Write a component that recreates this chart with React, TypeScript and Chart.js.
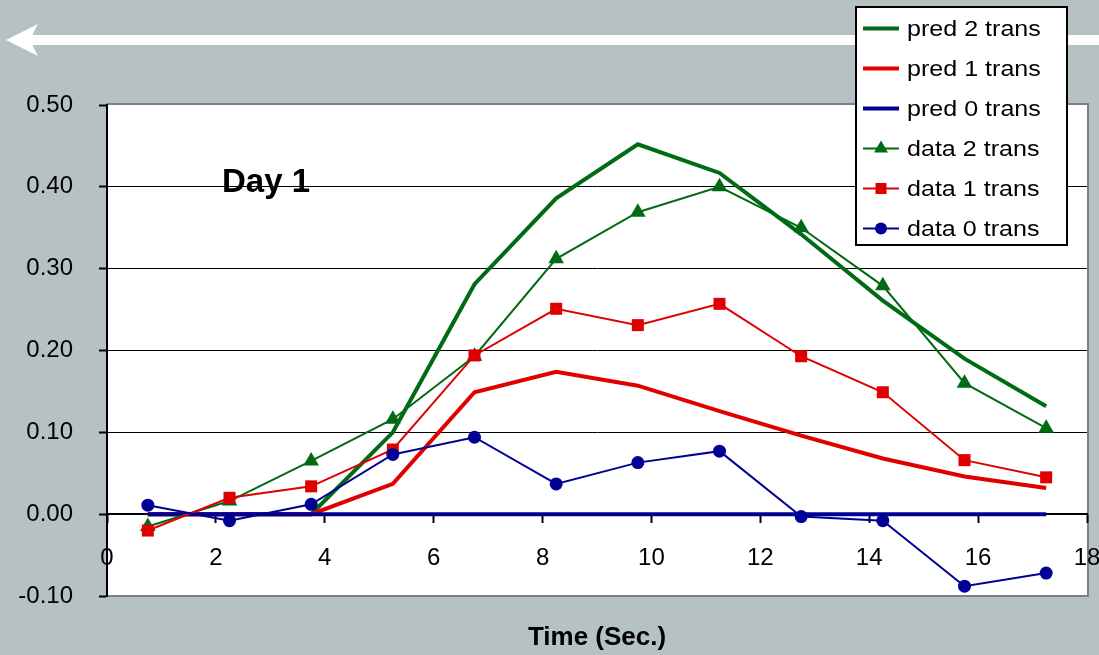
import React, { useEffect, useRef } from 'react';
import { Chart, registerables } from 'chart.js';

Chart.register(...registerables);

const FONT = '"Liberation Sans", Arial, Helvetica, sans-serif';
const GREEN = '#006a14';
const RED = '#e00000';
const BLUE = '#000096';

// Time (Sec.) of each sample
const times = [0.75, 2.25, 3.75, 5.25, 6.75, 8.25, 9.75, 11.25, 12.75, 14.25, 15.75, 17.25];
// predicted curves
const pred2 = [0, 0, 0, 0.1, 0.281, 0.386, 0.452, 0.417, 0.342, 0.261, 0.19, 0.132];
const pred1 = [0, 0, 0, 0.037, 0.149, 0.174, 0.157, 0.126, 0.096, 0.068, 0.046, 0.032];
const pred0 = [0, 0, 0, 0, 0, 0, 0, 0, 0, 0, 0, 0];
// observed data
const data2 = [-0.015, 0.016, 0.065, 0.116, 0.193, 0.312, 0.369, 0.4, 0.35, 0.279, 0.16, 0.105];
const data1 = [-0.02, 0.02, 0.034, 0.079, 0.194, 0.251, 0.231, 0.257, 0.193, 0.149, 0.066, 0.045];
const data0 = [0.011, -0.008, 0.012, 0.073, 0.094, 0.037, 0.063, 0.077, -0.003, -0.008, -0.088, -0.072];

const seriesLabels = ['pred 2 trans', 'pred 1 trans', 'pred 0 trans', 'data 2 trans', 'data 1 trans', 'data 0 trans'];
const chartNote = 'Day 1';
const xTitle = 'Time (Sec.)';

const toPts = (ys: number[]) => ys.map((y, i) => ({ x: times[i], y }));

type LegendItem = { label: string; color: string; width: number; marker: string | null };
const legendItems: LegendItem[] = [
  { label: seriesLabels[0], color: GREEN, width: 4, marker: null },
  { label: seriesLabels[1], color: RED, width: 4, marker: null },
  { label: seriesLabels[2], color: BLUE, width: 4, marker: null },
  { label: seriesLabels[3], color: GREEN, width: 2, marker: 'triangle' },
  { label: seriesLabels[4], color: RED, width: 2, marker: 'rect' },
  { label: seriesLabels[5], color: BLUE, width: 2, marker: 'circle' },
];

function drawMarker(ctx: CanvasRenderingContext2D, type: string, x: number, y: number, color: string) {
  ctx.fillStyle = color;
  ctx.beginPath();
  if (type === 'triangle') {
    ctx.moveTo(x, y - 8);
    ctx.lineTo(x + 7, y + 4);
    ctx.lineTo(x - 7, y + 4);
    ctx.closePath();
  } else if (type === 'rect') {
    ctx.rect(x - 5.5, y - 5.5, 11, 11);
  } else {
    ctx.arc(x, y, 6, 0, Math.PI * 2);
  }
  ctx.fill();
}

const decorPlugin = {
  id: 'decor',
  beforeDraw(chart: any) {
    const { ctx, width, height, chartArea } = chart;
    ctx.save();
    ctx.fillStyle = '#b5c1c3';
    ctx.fillRect(0, 0, width, height);
    // white arrow
    ctx.fillStyle = '#ffffff';
    ctx.fillRect(30, 35, width - 30, 10);
    ctx.beginPath();
    ctx.moveTo(6, 40);
    ctx.lineTo(38, 24);
    ctx.quadraticCurveTo(32, 34, 31, 40);
    ctx.quadraticCurveTo(32, 46, 38, 56);
    ctx.closePath();
    ctx.fill();
    // plot area
    const { left, top, right, bottom } = chartArea;
    ctx.fillStyle = '#ffffff';
    ctx.fillRect(left, top - 1, right - left + 1, bottom - top + 1);
    ctx.strokeStyle = '#808080';
    ctx.lineWidth = 2;
    ctx.strokeRect(left, top - 1, right - left + 1, bottom - top + 1);
    ctx.restore();
  },
  afterDraw(chart: any) {
    const { ctx } = chart;
    ctx.save();
    // note
    ctx.fillStyle = '#000';
    ctx.font = `bold 33px ${FONT}`;
    ctx.textBaseline = 'alphabetic';
    ctx.textAlign = 'left';
    ctx.fillText(chartNote, 222, 192);
    // legend
    const bx = 855, by = 6, bw = 213, bh = 240;
    ctx.fillStyle = '#ffffff';
    ctx.fillRect(bx, by, bw, bh);
    ctx.strokeStyle = '#000';
    ctx.lineWidth = 2;
    ctx.strokeRect(bx + 1, by + 1, bw - 2, bh - 2);
    legendItems.forEach((it, i) => {
      const y = 28.5 + i * 40;
      ctx.strokeStyle = it.color;
      ctx.lineWidth = it.width;
      ctx.beginPath();
      ctx.moveTo(863, y);
      ctx.lineTo(899, y);
      ctx.stroke();
      if (it.marker) drawMarker(ctx, it.marker, 881, y, it.color);
      ctx.save();
      ctx.translate(907, y + 1);
      ctx.scale(1.14, 1);
      ctx.fillStyle = '#000';
      ctx.font = `22px ${FONT}`;
      ctx.textBaseline = 'middle';
      ctx.textAlign = 'left';
      ctx.fillText(it.label, 0, 0);
      ctx.restore();
    });
    ctx.restore();
  },
};

export default function App() {
  const ref = useRef<HTMLCanvasElement | null>(null);
  useEffect(() => {
    if (!ref.current) return;
    const thin = (label: string, ys: number[], color: string, style: string, r: number) => ({
      label,
      data: toPts(ys),
      borderColor: color,
      backgroundColor: color,
      borderWidth: 2,
      pointStyle: style,
      pointRadius: r,
      pointBorderWidth: 0,
      pointBackgroundColor: color,
      tension: 0,
    });
    const thick = (label: string, ys: number[], color: string) => ({
      label,
      data: toPts(ys),
      borderColor: color,
      backgroundColor: color,
      borderWidth: 4,
      pointRadius: 0,
      tension: 0,
    });
    const chart = new Chart(ref.current, {
      type: 'line',
      data: {
        datasets: [
          thin(seriesLabels[5], data0, BLUE, 'circle', 6.5),
          thin(seriesLabels[4], data1, RED, 'rect', 8.5),
          thin(seriesLabels[3], data2, GREEN, 'triangle', 9),
          thick(seriesLabels[2], pred0, BLUE),
          thick(seriesLabels[1], pred1, RED),
          thick(seriesLabels[0], pred2, GREEN),
        ] as any,
      },
      options: {
        responsive: false,
        animation: false,
        layout: { padding: { left: 0, top: 105, right: 12, bottom: 59 } },
        plugins: { legend: { display: false }, tooltip: { enabled: false } },
        scales: {
          x: {
            type: 'linear',
            min: 0,
            max: 18,
            position: { y: 0 } as any,
            ticks: {
              stepSize: 2,
              color: '#000',
              font: { size: 24, family: FONT },
              padding: 22,
              maxRotation: 0,
              autoSkip: false,
            },
            grid: { drawOnChartArea: false, tickLength: 8, tickColor: '#000', tickWidth: 2 },
            border: { color: '#000', width: 2 },
            title: {
              display: true,
              text: xTitle,
              color: '#000',
              font: { size: 26, weight: 'bold', family: FONT },
              padding: { top: 27, bottom: 0 },
            },
            afterFit: (s: any) => {
              s.paddingLeft = 0;
              s.paddingRight = 0;
            },
          },
          y: {
            type: 'linear',
            min: -0.1,
            max: 0.5,
            ticks: {
              stepSize: 0.1,
              color: '#000',
              font: { size: 24, family: FONT },
              padding: 26,
              callback: (v: any) => {
                const n = Number(v);
                return (Math.abs(n) < 1e-9 ? 0 : n).toFixed(2);
              },
            },
            grid: {
              color: (c: any) =>
                c.tick && (c.tick.value > 0.45 || c.tick.value < -0.05) ? 'rgba(0,0,0,0)' : '#000',
              lineWidth: 1,
              tickLength: 8,
              tickColor: '#000',
              tickWidth: 2,
            },
            border: { color: '#000', width: 2 },
            afterFit: (s: any) => {
              s.width = 107;
            },
          },
        },
      } as any,
      plugins: [decorPlugin],
    });
    return () => chart.destroy();
  }, []);
  return (
    <div style={{ position: 'absolute', left: 0, top: 0, width: 1099, height: 655 }}>
      <canvas ref={ref} width={1099} height={655} />
    </div>
  );
}
